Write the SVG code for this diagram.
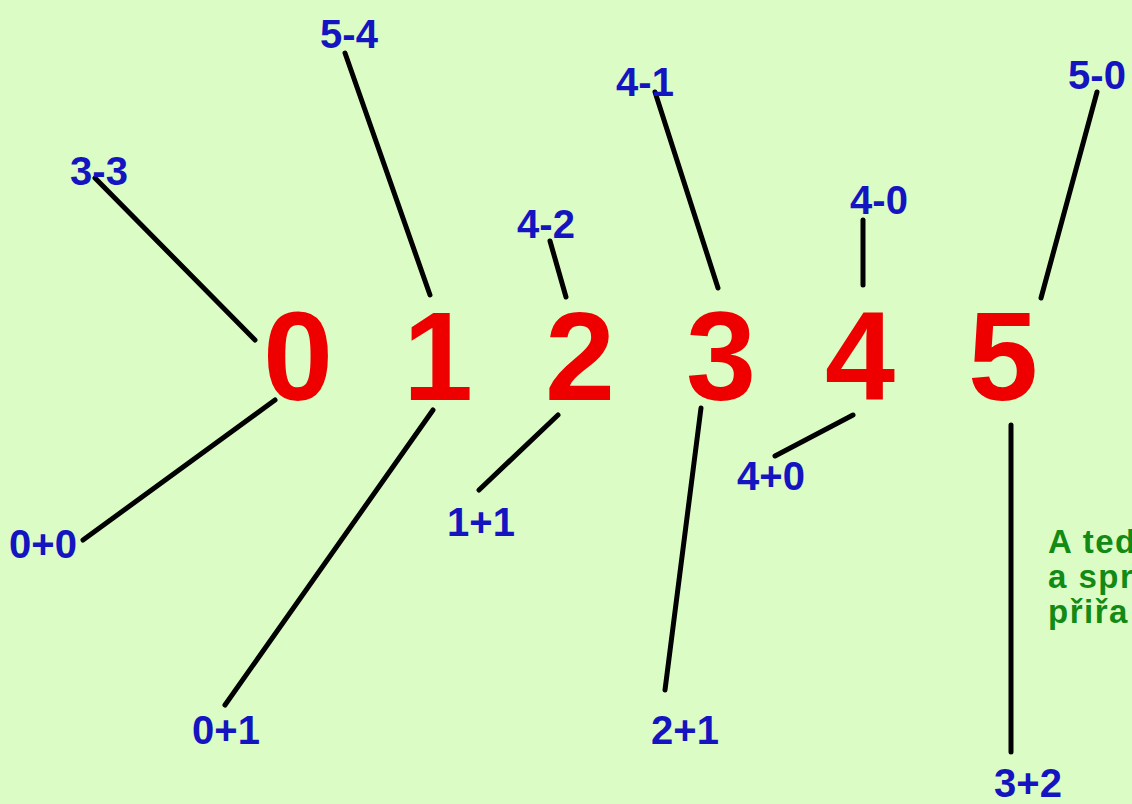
<svg xmlns="http://www.w3.org/2000/svg" width="1132" height="804" viewBox="0 0 1132 804">
<style>
.bg{fill:#dbfdc5}
.num{font-family:"Liberation Sans",Arial,sans-serif;font-weight:bold;font-size:126px;fill:#ee0000;text-anchor:middle}
.lbl{font-family:"Liberation Sans",Arial,sans-serif;font-weight:bold;font-size:40px;fill:#1414c0;text-anchor:middle}
.note{font-family:"Liberation Sans",Arial,sans-serif;font-weight:bold;font-size:33px;letter-spacing:1.5px;fill:#138a13}
.c line{stroke:#000;stroke-width:5;stroke-linecap:round}
</style>
<rect class="bg" x="0" y="0" width="1132" height="804"/>
<g id="connectors" class="c">
<line x1="95" y1="178" x2="255" y2="340"/>
<line x1="345" y1="53" x2="430" y2="295"/>
<line x1="550" y1="241" x2="566" y2="297"/>
<line x1="655" y1="92" x2="718" y2="288"/>
<line x1="863" y1="220" x2="863" y2="285"/>
<line x1="1097" y1="92" x2="1041" y2="298"/>
<line x1="275" y1="400" x2="83" y2="540"/>
<line x1="433" y1="410" x2="225" y2="705"/>
<line x1="558" y1="415" x2="479" y2="490"/>
<line x1="701" y1="408" x2="665" y2="690"/>
<line x1="853" y1="415" x2="775" y2="456"/>
<line x1="1011" y1="425" x2="1011" y2="752"/>
</g>
<g id="n0"><text class="num" x="298" y="400">0</text></g>
<g id="n1"><text class="num" x="438" y="400">1</text></g>
<g id="n2"><text class="num" x="580" y="400">2</text></g>
<g id="n3"><text class="num" x="721" y="400">3</text></g>
<g id="n4"><text class="num" x="860" y="400">4</text></g>
<g id="n5"><text class="num" x="1003" y="400">5</text></g>
<g id="l33"><text class="lbl" x="99" y="185">3-3</text></g>
<g id="l54"><text class="lbl" x="349" y="48">5-4</text></g>
<g id="l42"><text class="lbl" x="546" y="238">4-2</text></g>
<g id="l41"><text class="lbl" x="645" y="96">4-1</text></g>
<g id="l40"><text class="lbl" x="879" y="214">4-0</text></g>
<g id="l50"><text class="lbl" x="1097" y="89">5-0</text></g>
<g id="l00"><text class="lbl" x="43" y="558">0+0</text></g>
<g id="l01"><text class="lbl" x="226" y="744">0+1</text></g>
<g id="l11"><text class="lbl" x="481" y="536">1+1</text></g>
<g id="l40p"><text class="lbl" x="771" y="490">4+0</text></g>
<g id="l21"><text class="lbl" x="685" y="744">2+1</text></g>
<g id="l32"><text class="lbl" x="1028" y="797">3+2</text></g>
<g id="note">
<text class="note" x="1048" y="553">A teď</text>
<text class="note" x="1048" y="588">a spr</text>
<text class="note" x="1048" y="623">přiřa</text>
</g>
</svg>
